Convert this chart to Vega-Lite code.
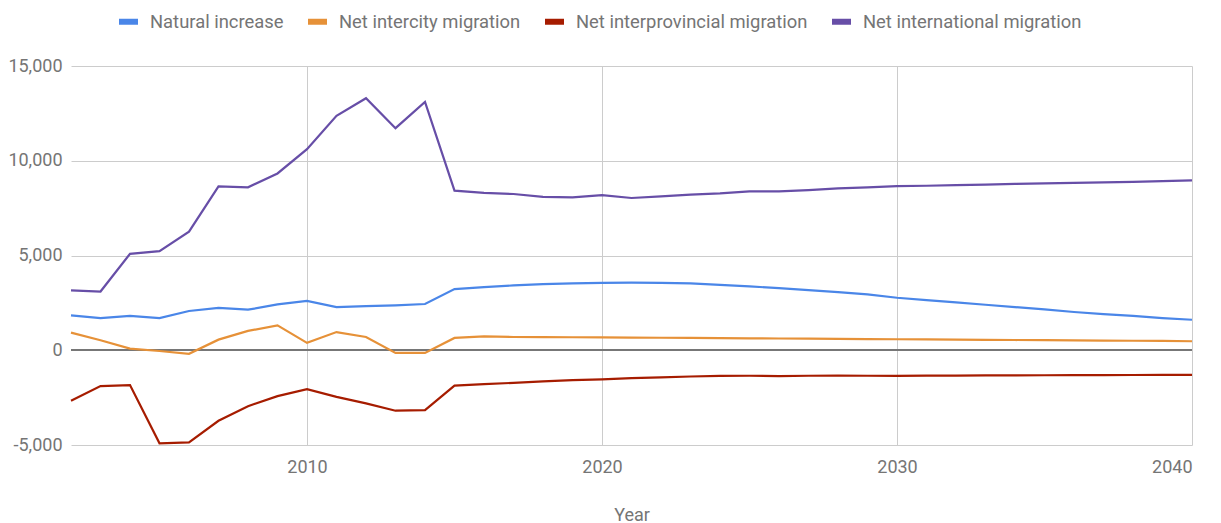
{
  "$schema": "https://vega.github.io/schema/vega-lite/v6.json",
  "width": 1121,
  "height": 379,
  "autosize": {"type": "none"},
  "padding": {"left": 71, "top": 66, "right": 29, "bottom": 78},
  "background": "white",
  "config": {
    "view": {"stroke": null},
    "font": "Roboto",
    "locale": {"number": {"decimal": ".", "thousands": ",", "grouping": [3], "currency": ["$", ""], "minus": "-"}}
  },
  "data": {"values": [
    {"year": 2002, "series": "Natural increase", "value": 1840},
    {"year": 2003, "series": "Natural increase", "value": 1700},
    {"year": 2004, "series": "Natural increase", "value": 1810},
    {"year": 2005, "series": "Natural increase", "value": 1700},
    {"year": 2006, "series": "Natural increase", "value": 2070},
    {"year": 2007, "series": "Natural increase", "value": 2240},
    {"year": 2008, "series": "Natural increase", "value": 2140},
    {"year": 2009, "series": "Natural increase", "value": 2420},
    {"year": 2010, "series": "Natural increase", "value": 2600},
    {"year": 2011, "series": "Natural increase", "value": 2280},
    {"year": 2012, "series": "Natural increase", "value": 2330},
    {"year": 2013, "series": "Natural increase", "value": 2370},
    {"year": 2014, "series": "Natural increase", "value": 2440},
    {"year": 2015, "series": "Natural increase", "value": 3230},
    {"year": 2016, "series": "Natural increase", "value": 3330},
    {"year": 2017, "series": "Natural increase", "value": 3420},
    {"year": 2018, "series": "Natural increase", "value": 3490},
    {"year": 2019, "series": "Natural increase", "value": 3530},
    {"year": 2020, "series": "Natural increase", "value": 3560},
    {"year": 2021, "series": "Natural increase", "value": 3570},
    {"year": 2022, "series": "Natural increase", "value": 3560},
    {"year": 2023, "series": "Natural increase", "value": 3525},
    {"year": 2024, "series": "Natural increase", "value": 3455},
    {"year": 2025, "series": "Natural increase", "value": 3370},
    {"year": 2026, "series": "Natural increase", "value": 3280},
    {"year": 2027, "series": "Natural increase", "value": 3175},
    {"year": 2028, "series": "Natural increase", "value": 3070},
    {"year": 2029, "series": "Natural increase", "value": 2950},
    {"year": 2030, "series": "Natural increase", "value": 2770},
    {"year": 2031, "series": "Natural increase", "value": 2650},
    {"year": 2032, "series": "Natural increase", "value": 2525},
    {"year": 2033, "series": "Natural increase", "value": 2400},
    {"year": 2034, "series": "Natural increase", "value": 2280},
    {"year": 2035, "series": "Natural increase", "value": 2160},
    {"year": 2036, "series": "Natural increase", "value": 2020},
    {"year": 2037, "series": "Natural increase", "value": 1910},
    {"year": 2038, "series": "Natural increase", "value": 1810},
    {"year": 2039, "series": "Natural increase", "value": 1700},
    {"year": 2040, "series": "Natural increase", "value": 1610},

    {"year": 2002, "series": "Net intercity migration", "value": 930},
    {"year": 2003, "series": "Net intercity migration", "value": 530},
    {"year": 2004, "series": "Net intercity migration", "value": 90},
    {"year": 2005, "series": "Net intercity migration", "value": -40},
    {"year": 2006, "series": "Net intercity migration", "value": -190},
    {"year": 2007, "series": "Net intercity migration", "value": 560},
    {"year": 2008, "series": "Net intercity migration", "value": 1020},
    {"year": 2009, "series": "Net intercity migration", "value": 1310},
    {"year": 2010, "series": "Net intercity migration", "value": 390},
    {"year": 2011, "series": "Net intercity migration", "value": 960},
    {"year": 2012, "series": "Net intercity migration", "value": 700},
    {"year": 2013, "series": "Net intercity migration", "value": -140},
    {"year": 2014, "series": "Net intercity migration", "value": -140},
    {"year": 2015, "series": "Net intercity migration", "value": 650},
    {"year": 2016, "series": "Net intercity migration", "value": 730},
    {"year": 2017, "series": "Net intercity migration", "value": 700},
    {"year": 2018, "series": "Net intercity migration", "value": 690},
    {"year": 2019, "series": "Net intercity migration", "value": 685},
    {"year": 2020, "series": "Net intercity migration", "value": 680},
    {"year": 2021, "series": "Net intercity migration", "value": 670},
    {"year": 2022, "series": "Net intercity migration", "value": 660},
    {"year": 2023, "series": "Net intercity migration", "value": 650},
    {"year": 2024, "series": "Net intercity migration", "value": 640},
    {"year": 2025, "series": "Net intercity migration", "value": 630},
    {"year": 2026, "series": "Net intercity migration", "value": 620},
    {"year": 2027, "series": "Net intercity migration", "value": 610},
    {"year": 2028, "series": "Net intercity migration", "value": 600},
    {"year": 2029, "series": "Net intercity migration", "value": 590},
    {"year": 2030, "series": "Net intercity migration", "value": 580},
    {"year": 2031, "series": "Net intercity migration", "value": 570},
    {"year": 2032, "series": "Net intercity migration", "value": 560},
    {"year": 2033, "series": "Net intercity migration", "value": 550},
    {"year": 2034, "series": "Net intercity migration", "value": 540},
    {"year": 2035, "series": "Net intercity migration", "value": 530},
    {"year": 2036, "series": "Net intercity migration", "value": 520},
    {"year": 2037, "series": "Net intercity migration", "value": 510},
    {"year": 2038, "series": "Net intercity migration", "value": 500},
    {"year": 2039, "series": "Net intercity migration", "value": 490},
    {"year": 2040, "series": "Net intercity migration", "value": 475},

    {"year": 2002, "series": "Net interprovincial migration", "value": -2670},
    {"year": 2003, "series": "Net interprovincial migration", "value": -1890},
    {"year": 2004, "series": "Net interprovincial migration", "value": -1840},
    {"year": 2005, "series": "Net interprovincial migration", "value": -4910},
    {"year": 2006, "series": "Net interprovincial migration", "value": -4860},
    {"year": 2007, "series": "Net interprovincial migration", "value": -3720},
    {"year": 2008, "series": "Net interprovincial migration", "value": -2950},
    {"year": 2009, "series": "Net interprovincial migration", "value": -2420},
    {"year": 2010, "series": "Net interprovincial migration", "value": -2050},
    {"year": 2011, "series": "Net interprovincial migration", "value": -2460},
    {"year": 2012, "series": "Net interprovincial migration", "value": -2800},
    {"year": 2013, "series": "Net interprovincial migration", "value": -3190},
    {"year": 2014, "series": "Net interprovincial migration", "value": -3160},
    {"year": 2015, "series": "Net interprovincial migration", "value": -1870},
    {"year": 2016, "series": "Net interprovincial migration", "value": -1790},
    {"year": 2017, "series": "Net interprovincial migration", "value": -1720},
    {"year": 2018, "series": "Net interprovincial migration", "value": -1640},
    {"year": 2019, "series": "Net interprovincial migration", "value": -1580},
    {"year": 2020, "series": "Net interprovincial migration", "value": -1540},
    {"year": 2021, "series": "Net interprovincial migration", "value": -1475},
    {"year": 2022, "series": "Net interprovincial migration", "value": -1435},
    {"year": 2023, "series": "Net interprovincial migration", "value": -1385},
    {"year": 2024, "series": "Net interprovincial migration", "value": -1350},
    {"year": 2025, "series": "Net interprovincial migration", "value": -1345},
    {"year": 2026, "series": "Net interprovincial migration", "value": -1365},
    {"year": 2027, "series": "Net interprovincial migration", "value": -1345},
    {"year": 2028, "series": "Net interprovincial migration", "value": -1335},
    {"year": 2029, "series": "Net interprovincial migration", "value": -1345},
    {"year": 2030, "series": "Net interprovincial migration", "value": -1350},
    {"year": 2031, "series": "Net interprovincial migration", "value": -1340},
    {"year": 2032, "series": "Net interprovincial migration", "value": -1335},
    {"year": 2033, "series": "Net interprovincial migration", "value": -1330},
    {"year": 2034, "series": "Net interprovincial migration", "value": -1325},
    {"year": 2035, "series": "Net interprovincial migration", "value": -1320},
    {"year": 2036, "series": "Net interprovincial migration", "value": -1315},
    {"year": 2037, "series": "Net interprovincial migration", "value": -1310},
    {"year": 2038, "series": "Net interprovincial migration", "value": -1305},
    {"year": 2039, "series": "Net interprovincial migration", "value": -1300},
    {"year": 2040, "series": "Net interprovincial migration", "value": -1295},

    {"year": 2002, "series": "Net international migration", "value": 3160},
    {"year": 2003, "series": "Net international migration", "value": 3100},
    {"year": 2004, "series": "Net international migration", "value": 5090},
    {"year": 2005, "series": "Net international migration", "value": 5230},
    {"year": 2006, "series": "Net international migration", "value": 6260},
    {"year": 2007, "series": "Net international migration", "value": 8650},
    {"year": 2008, "series": "Net international migration", "value": 8600},
    {"year": 2009, "series": "Net international migration", "value": 9330},
    {"year": 2010, "series": "Net international migration", "value": 10610},
    {"year": 2011, "series": "Net international migration", "value": 12370},
    {"year": 2012, "series": "Net international migration", "value": 13300},
    {"year": 2013, "series": "Net international migration", "value": 11720},
    {"year": 2014, "series": "Net international migration", "value": 13100},
    {"year": 2015, "series": "Net international migration", "value": 8420},
    {"year": 2016, "series": "Net international migration", "value": 8300},
    {"year": 2017, "series": "Net international migration", "value": 8245},
    {"year": 2018, "series": "Net international migration", "value": 8090},
    {"year": 2019, "series": "Net international migration", "value": 8070},
    {"year": 2020, "series": "Net international migration", "value": 8190},
    {"year": 2021, "series": "Net international migration", "value": 8035},
    {"year": 2022, "series": "Net international migration", "value": 8120},
    {"year": 2023, "series": "Net international migration", "value": 8210},
    {"year": 2024, "series": "Net international migration", "value": 8280},
    {"year": 2025, "series": "Net international migration", "value": 8385},
    {"year": 2026, "series": "Net international migration", "value": 8385},
    {"year": 2027, "series": "Net international migration", "value": 8455},
    {"year": 2028, "series": "Net international migration", "value": 8540},
    {"year": 2029, "series": "Net international migration", "value": 8600},
    {"year": 2030, "series": "Net international migration", "value": 8665},
    {"year": 2031, "series": "Net international migration", "value": 8680},
    {"year": 2032, "series": "Net international migration", "value": 8710},
    {"year": 2033, "series": "Net international migration", "value": 8740},
    {"year": 2034, "series": "Net international migration", "value": 8775},
    {"year": 2035, "series": "Net international migration", "value": 8805},
    {"year": 2036, "series": "Net international migration", "value": 8830},
    {"year": 2037, "series": "Net international migration", "value": 8860},
    {"year": 2038, "series": "Net international migration", "value": 8890},
    {"year": 2039, "series": "Net international migration", "value": 8925},
    {"year": 2040, "series": "Net international migration", "value": 8960}
  ]},
  "encoding": {
    "x": {
      "field": "year", "type": "quantitative",
      "scale": {"domain": [2002, 2040], "nice": false, "zero": false},
      "axis": {
        "values": [2010, 2020, 2030, 2040], "format": "d",
        "grid": true, "gridColor": "#cccccc", "gridWidth": 1,
        "domain": false, "ticks": false,
        "labelFontSize": 18, "labelColor": "#757575", "labelPadding": 13,
        "title": "Year", "titleFontSize": 18, "titleColor": "#757575",
        "titleFontWeight": "normal", "titlePadding": 30
      }
    },
    "y": {
      "field": "value", "type": "quantitative",
      "scale": {"domain": [-5000, 15000], "nice": false},
      "axis": {
        "values": [-5000, 0, 5000, 10000, 15000], "format": ",d",
        "grid": true, "gridColor": "#cccccc", "gridWidth": 1,
        "domain": false, "ticks": false,
        "labelFontSize": 18, "labelColor": "#757575", "labelPadding": 9,
        "title": null
      }
    }
  },
  "layer": [
    {
      "mark": {"type": "rule", "color": "#777777", "strokeWidth": 1.5},
      "encoding": {"y": {"datum": 0}, "x": {"datum": 2002}, "x2": {"datum": 2040}}
    },
    {
      "mark": {"type": "line", "strokeWidth": 2.2},
      "encoding": {
        "color": {
          "field": "series", "type": "nominal",
          "scale": {
            "domain": ["Natural increase", "Net intercity migration", "Net interprovincial migration", "Net international migration"],
            "range": ["#4a86e8", "#e69138", "#a61c00", "#674ea7"]
          },
          "legend": {
            "orient": "none", "legendX": 45, "legendY": -57,
            "direction": "horizontal", "title": null,
            "symbolType": "stroke", "symbolStrokeWidth": 6, "symbolSize": 361,
            "labelFontSize": 18.4, "labelColor": "#757575", "labelLimit": 400,
            "labelOffset": 9, "columnPadding": 12
          }
        }
      }
    }
  ]
}
